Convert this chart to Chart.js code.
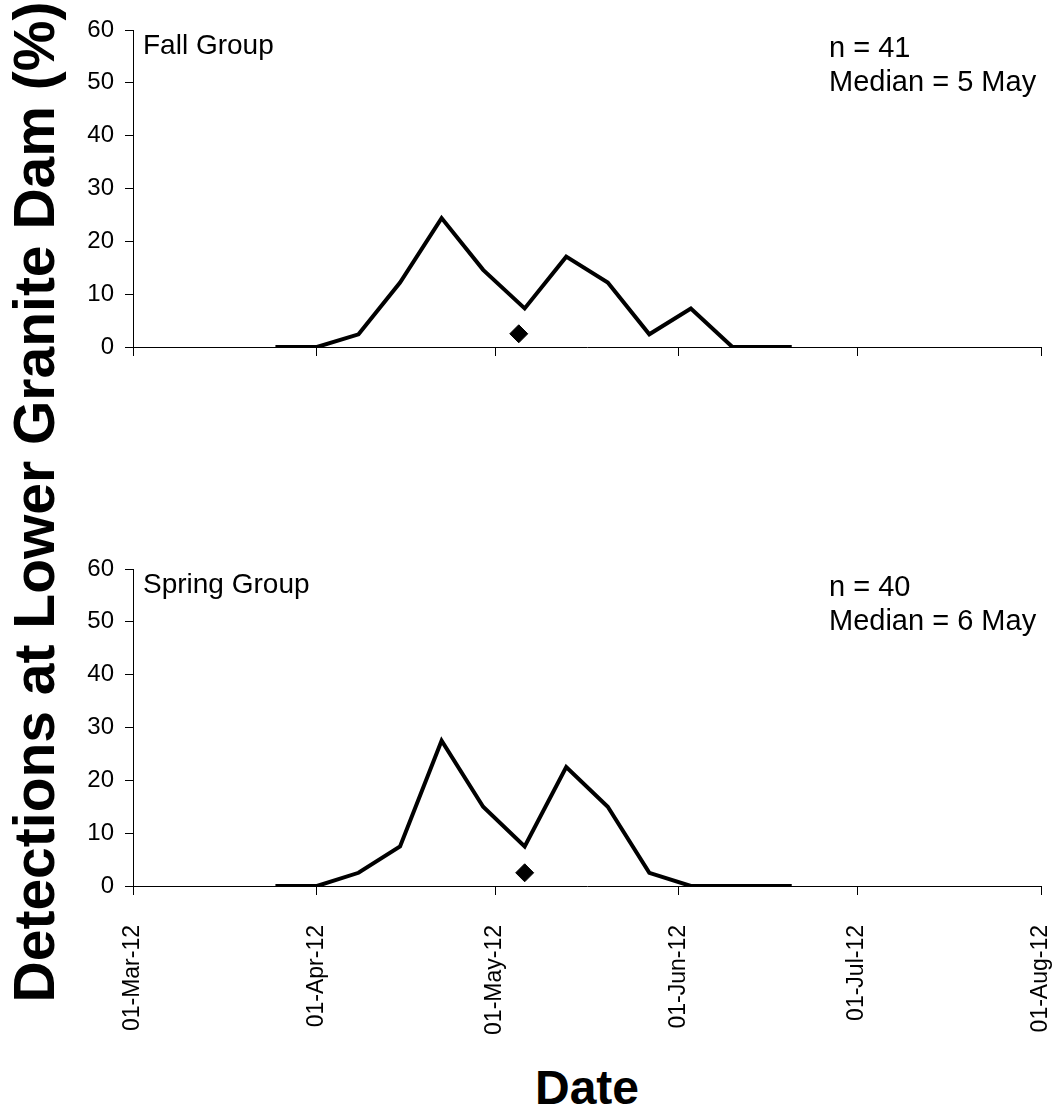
<!DOCTYPE html>
<html>
<head>
<meta charset="utf-8">
<script src="https://cdn.jsdelivr.net/npm/chart.js@4.4.1/dist/chart.umd.min.js"></script>
<style>
  body { margin: 0; background: #fff; }
  #wrap { position: relative; width: 1055px; height: 1116px; font-family: "Liberation Sans", Arial, sans-serif; color: #000; }
  canvas { position: absolute; left: 0; }
  .note { position: absolute; font-size: 28px; line-height: 34px; white-space: nowrap; }
  .note.right { font-size: 29px; }
  #ytitle { position: absolute; width: 1100px; height: 60px; line-height: 60px; left: -516px; top: 472px;
            text-align: center; font-weight: bold; font-size: 57px; transform: rotate(-90deg); white-space: nowrap; }
  #xtitle { position: absolute; left: 387px; width: 400px; top: 1064px; text-align: center;
            font-weight: bold; font-size: 48px; line-height: 48px; }
</style>
</head>
<body>
<div id="wrap">
  <canvas id="fall" width="1055" height="380" style="top:0"></canvas>
  <canvas id="spring" width="1055" height="500" style="top:539px"></canvas>
  <div class="note" style="left:143px; top:28px">Fall Group</div>
  <div class="note right" style="left:829px; top:30px">n = 41<br>Median = 5 May</div>
  <div class="note" style="left:143px; top:567px">Spring Group</div>
  <div class="note right" style="left:829px; top:569px">n = 40<br>Median = 6 May</div>
  <div id="ytitle">Detections at Lower Granite Dam (%)</div>
  <div id="xtitle">Date</div>
</div>
<script>
// weekly detection bins
const sampleDates = ['2012-03-25', '2012-04-01', '2012-04-08', '2012-04-15', '2012-04-22', '2012-04-29',
  '2012-05-06', '2012-05-13', '2012-05-20', '2012-05-27', '2012-06-03', '2012-06-10', '2012-06-20'];
const fallPct = [0, 0, 2.4, 12.2, 24.4, 14.6, 7.3, 17.1, 12.2, 2.4, 7.3, 0, 0];
const springPct = [0, 0, 2.5, 7.5, 27.5, 15, 7.5, 22.5, 15, 2.5, 0, 0, 0];
const fallMedian = '2012-05-05';
const springMedian = '2012-05-06';
const medianMarkY = 2.5;
const axisDates = ['2012-03-01', '2012-04-01', '2012-05-01', '2012-06-01', '2012-07-01', '2012-08-01'];

const monthNames = ['Jan', 'Feb', 'Mar', 'Apr', 'May', 'Jun', 'Jul', 'Aug', 'Sep', 'Oct', 'Nov', 'Dec'];
const origin = Date.UTC(2012, 2, 1);
const toDay = s => (Date.UTC(+s.slice(0, 4), +s.slice(5, 7) - 1, +s.slice(8, 10)) - origin) / 86400000;
const fmtDay = v => {
  const d = new Date(origin + v * 86400000);
  return String(d.getUTCDate()).padStart(2, '0') + '-' + monthNames[d.getUTCMonth()] + '-' + String(d.getUTCFullYear()).slice(2);
};
const axisDays = axisDates.map(toDay);
const font = 'Liberation Sans, Arial, sans-serif';

function panel(id, values, median, showLabels, xHeight) {
  new Chart(document.getElementById(id), {
    type: 'line',
    data: {
      datasets: [{
        data: sampleDates.map((d, i) => ({ x: toDay(d), y: values[i] })),
        borderColor: '#000',
        borderWidth: 4,
        borderJoinStyle: 'miter',
        tension: 0,
        pointRadius: 0
      }, {
        data: [{ x: toDay(median), y: medianMarkY }],
        showLine: false,
        pointStyle: 'rectRot',
        pointRadius: 9,
        pointBackgroundColor: '#000',
        pointBorderColor: '#000',
        pointBorderWidth: 1
      }]
    },
    options: {
      responsive: false,
      animation: false,
      layout: { padding: { top: 30, right: 14, left: 0, bottom: 0 } },
      plugins: { legend: { display: false }, tooltip: { enabled: false } },
      scales: {
        x: {
          type: 'linear',
          min: axisDays[0],
          max: axisDays[axisDays.length - 1],
          afterBuildTicks: s => { s.ticks = axisDays.map(v => ({ value: v })); },
          afterFit: s => { s.height = xHeight; s.paddingLeft = 0; s.paddingRight = 0; },
          grid: { drawOnChartArea: false, drawTicks: true, tickLength: 9, color: '#000', lineWidth: 1 },
          border: { display: true, color: '#000', width: 1 },
          ticks: {
            display: showLabels, autoSkip: false, minRotation: 90, maxRotation: 90, padding: 30,
            color: '#000', font: { family: font, size: 23 }, callback: v => fmtDay(v)
          }
        },
        y: {
          min: 0,
          max: 60,
          afterFit: s => { s.width = 133; },
          grid: { drawOnChartArea: false, drawTicks: true, tickLength: 8, color: '#000', lineWidth: 1 },
          border: { display: true, color: '#000', width: 1 },
          ticks: { stepSize: 10, padding: 11, color: '#000', font: { family: font, size: 24 } }
        }
      }
    }
  });
}

panel('fall', fallPct, fallMedian, false, 33);
panel('spring', springPct, springMedian, true, 153);
</script>
</body>
</html>
